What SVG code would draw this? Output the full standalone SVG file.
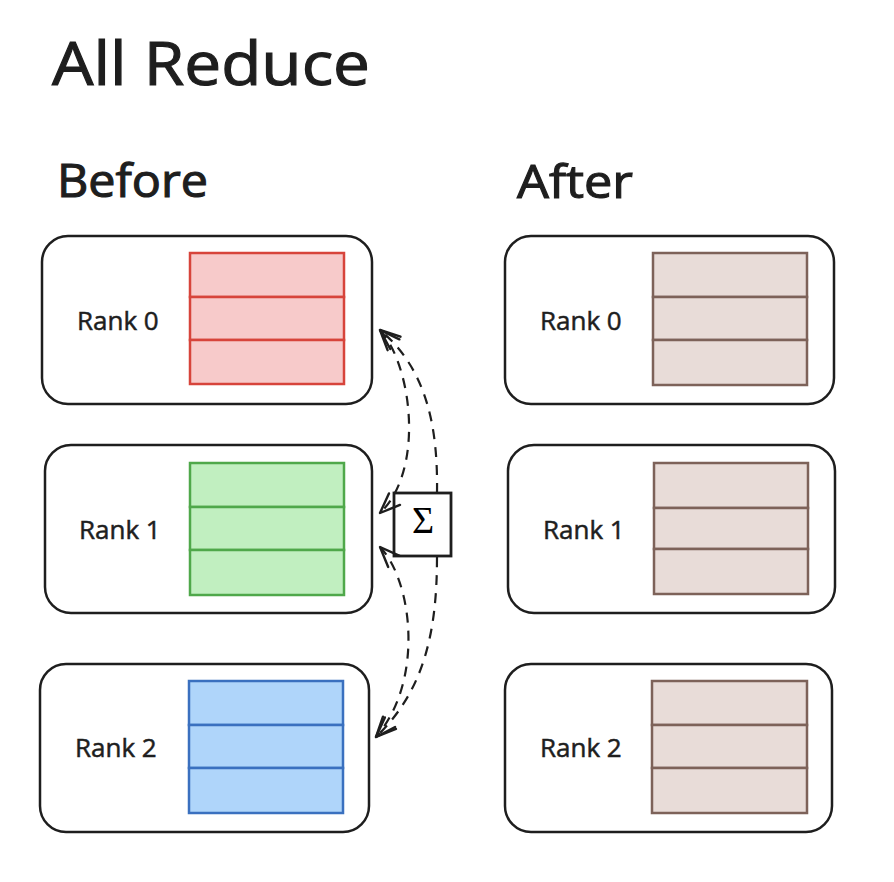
<svg xmlns="http://www.w3.org/2000/svg" width="894" height="882" viewBox="0 0 894 882">
<style>
  .t { font-family: "Open Sans", "Noto Sans", sans-serif; fill: #1e1e1e; stroke: #1e1e1e; stroke-width: 1.1; }
  .rank { fill: #ffffff; stroke: #1e1e1e; stroke-width: 2.5; }
  .lbl { font-family: "Open Sans", "Noto Sans", sans-serif; font-size: 26px; fill: #1e1e1e; stroke: #1e1e1e; stroke-width: 0.5; }
  .red { fill: #f7caca; stroke: #d7443b; stroke-width: 2.5; }
  .green { fill: #c1efc0; stroke: #4fa84a; stroke-width: 2.5; }
  .blue { fill: #afd5fa; stroke: #3a70bf; stroke-width: 2.5; }
  .brown { fill: #e8dcd8; stroke: #7d6259; stroke-width: 2.5; }
  .dash { fill: none; stroke: #1e1e1e; stroke-width: 2.2; stroke-dasharray: 10 8; }
</style>
<defs>
  <marker id="ah" markerUnits="userSpaceOnUse" viewBox="-24 -12 28 24" refX="0" refY="0" markerWidth="28" markerHeight="24" orient="auto-start-reverse">
    <path d="M -20 -8 L 0 0 L -20 8" fill="none" stroke="#1e1e1e" stroke-width="2.4" stroke-linecap="round" stroke-linejoin="round"/>
  </marker>
</defs>
<rect width="894" height="882" fill="#ffffff"/>

<text class="t" x="52" y="85" font-size="60" textLength="318" lengthAdjust="spacingAndGlyphs">All Reduce</text>
<text class="t" x="57" y="197" font-size="46" textLength="151" lengthAdjust="spacingAndGlyphs">Before</text>
<text class="t" x="517" y="198" font-size="46" textLength="116" lengthAdjust="spacingAndGlyphs">After</text>

<g id="before-rank0">
  <rect class="rank" x="42" y="236" width="330" height="168" rx="26"/>
  <text class="lbl" x="77" y="330">Rank 0</text>
  <rect class="red" x="190" y="253" width="154" height="44"/>
  <rect class="red" x="190" y="297" width="154" height="43"/>
  <rect class="red" x="190" y="340" width="154" height="44"/>
</g>
<g id="before-rank1">
  <rect class="rank" x="45" y="445" width="327" height="168" rx="26"/>
  <text class="lbl" x="79" y="539">Rank 1</text>
  <rect class="green" x="190" y="463" width="154" height="44"/>
  <rect class="green" x="190" y="507" width="154" height="43"/>
  <rect class="green" x="190" y="550" width="154" height="45"/>
</g>
<g id="before-rank2">
  <rect class="rank" x="40" y="664" width="329" height="168" rx="26"/>
  <text class="lbl" x="75" y="757">Rank 2</text>
  <rect class="blue" x="189" y="681" width="154" height="44"/>
  <rect class="blue" x="189" y="725" width="154" height="43"/>
  <rect class="blue" x="189" y="768" width="154" height="45"/>
</g>

<g id="after-rank0">
  <rect class="rank" x="505" y="236" width="329" height="168" rx="26"/>
  <text class="lbl" x="540" y="330">Rank 0</text>
  <rect class="brown" x="653" y="253" width="154" height="44"/>
  <rect class="brown" x="653" y="297" width="154" height="43"/>
  <rect class="brown" x="653" y="340" width="154" height="45"/>
</g>
<g id="after-rank1">
  <rect class="rank" x="508" y="445" width="327" height="168" rx="26"/>
  <text class="lbl" x="543" y="539">Rank 1</text>
  <rect class="brown" x="654" y="463" width="154" height="45"/>
  <rect class="brown" x="654" y="508" width="154" height="41"/>
  <rect class="brown" x="654" y="549" width="154" height="45"/>
</g>
<g id="after-rank2">
  <rect class="rank" x="505" y="664" width="327" height="168" rx="26"/>
  <text class="lbl" x="540" y="757">Rank 2</text>
  <rect class="brown" x="652" y="681" width="155" height="44"/>
  <rect class="brown" x="652" y="725" width="155" height="43"/>
  <rect class="brown" x="652" y="768" width="155" height="45"/>
</g>

<g id="sum">
  <rect x="394" y="493" width="57" height="63" fill="#ffffff" stroke="#1e1e1e" stroke-width="2.8"/>
  <text x="423" y="533" font-family="Liberation Serif, DejaVu Serif, serif" font-size="38" text-anchor="middle" fill="#000000">Σ</text>
</g>

<g id="connectors">
  <path class="dash" d="M 437 493 C 438 430, 428 370, 380 330" marker-end="url(#ah)"/>
  <path class="dash" d="M 380 330 C 412 365, 425 470, 380 513" marker-start="url(#ah)" marker-end="url(#ah)"/>
  <path class="dash" d="M 380 547 C 412 580, 425 680, 376 737" marker-start="url(#ah)" marker-end="url(#ah)"/>
  <path class="dash" d="M 437 557 C 437 630, 425 690, 376 737" marker-end="url(#ah)"/>
</g>
</svg>
